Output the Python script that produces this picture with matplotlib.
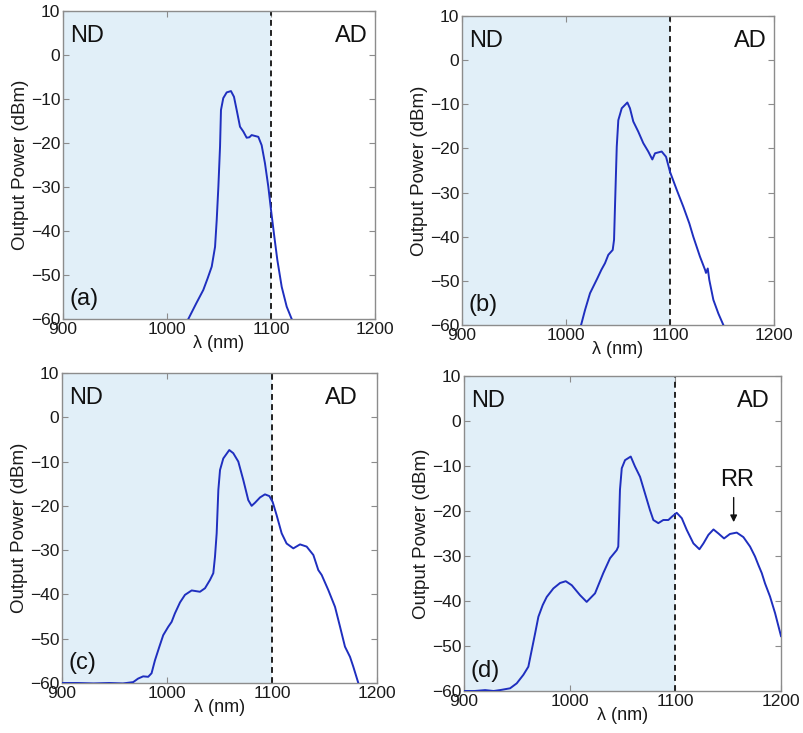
import matplotlib
matplotlib.use("Agg")
import matplotlib.pyplot as plt

plt.rcParams['font.family'] = ['Liberation Sans', 'DejaVu Sans']

# ---------------- data ----------------
wl_a = [1020.5, 1028, 1034.9, 1039, 1043, 1046.2, 1047.8, 1049.4, 1051, 1051.9, 1054.1,
        1057.4, 1061.5, 1064.4, 1067, 1070.2, 1073.4, 1076.6, 1079.2, 1081.4, 1084.6,
        1087.8, 1091, 1094.2, 1097.4, 1100, 1103.2, 1106.1, 1110.3, 1115.1, 1119.9]
pw_a = [-60, -56.5, -53.4, -50.8, -48.1, -43.6, -37.5, -29.9, -20.8, -12.5, -9.8,
        -8.5, -8.2, -9.5, -12.5, -16.3, -17.4, -18.8, -18.7, -18.2, -18.4,
        -18.6, -20.5, -24.6, -29.9, -35.2, -41.3, -46.6, -52.7, -57.2, -60]

wl_b = [1014.5, 1018.3, 1023.1, 1030, 1034, 1037.5, 1040.7, 1044.9, 1046.2, 1047.1, 1048.8,
        1050.3, 1053.6, 1059, 1061.5, 1064.7, 1069.5, 1074.3, 1079.1, 1083, 1085.6,
        1092, 1096.2, 1100, 1106.5, 1112.8, 1118.6, 1122.4, 1128.8, 1133.7, 1134.6,
        1136.3, 1137.8, 1141.7, 1146.5, 1151.3]
pw_b = [-60, -56.6, -52.8, -49.5, -47.5, -46.0, -44.1, -43.0, -40.7, -33.2, -19.6,
        -13.6, -10.9, -9.6, -10.9, -13.9, -16.2, -18.8, -20.7, -22.5, -21.1,
        -20.7, -21.9, -25.3, -29.4, -33.2, -37.0, -40.0, -44.5, -47.5, -48.2,
        -47.2, -49.8, -54.3, -57.4, -60]

wl_c = [900, 915, 930, 945, 958, 967.8, 972.5, 977.3, 982.1, 985.3, 988.5, 992.6, 996.4,
        1001.2, 1004.4, 1007.5, 1012.4, 1017.1, 1023.5, 1031.4, 1036.2, 1041, 1044.1,
        1045.7, 1047.3, 1048.9, 1050.5, 1053.6, 1059.3, 1063.1, 1067.9, 1072.7, 1077.4,
        1080.6, 1083.8, 1088.6, 1093.3, 1097.5, 1100.6, 1104.4, 1109.2, 1113.9, 1120.3,
        1126.7, 1133, 1139.4, 1144.1, 1147.3, 1153.6, 1160, 1164.8, 1169.5, 1174.3,
        1177.4, 1182.2]
pw_c = [-60, -60, -60.1, -60, -60.1, -59.8, -59, -58.5, -58.6, -57.8, -54.9, -51.9, -49.2,
        -47.3, -46.2, -44.3, -41.8, -40.1, -39.1, -39.4, -38.6, -36.7, -35.2,
        -31.5, -26.2, -16.4, -11.9, -9.3, -7.4, -8.1, -10.0, -14.2, -18.7,
        -20.0, -19.3, -18.1, -17.4, -17.8, -19.1, -22.1, -26.2, -28.5, -29.6,
        -28.7, -29.2, -31.1, -34.5, -35.6, -39.0, -42.8, -47.3, -51.8, -54.1,
        -56.3, -60]

wl_d = [900, 910, 920, 928, 934.1, 943.6, 949.9, 956.2, 960.9, 964.1, 967.3, 970.4, 974.5,
        978.3, 984.6, 990.9, 996.3, 1002, 1009.8, 1016.1, 1024, 1031.8, 1038.2,
        1044.5, 1046, 1047.6, 1049.3, 1052.4, 1057.8, 1061.8, 1066.6, 1071.3, 1076,
        1079.2, 1083.9, 1088.6, 1093.4, 1096.6, 1101.3, 1106.1, 1110.8, 1117.1, 1122.8,
        1126.6, 1131.3, 1136.1, 1140.8, 1146.1, 1151.7, 1158.1, 1164.4, 1170.7, 1175.4,
        1178.6, 1181.8, 1184.9, 1189.6, 1194.4, 1200]
pw_d = [-60, -60, -59.8, -60, -59.8, -59.4, -58.3, -56.4, -54.6, -50.9, -47.2, -43.5, -40.9,
        -39.1, -37.2, -36.0, -35.6, -36.5, -38.7, -40.2, -38.3, -33.8, -30.5,
        -28.7, -27.9, -15.3, -10.5, -8.7, -7.9, -10.1, -12.4, -16.1, -19.8,
        -22.0, -22.7, -22.0, -22.0, -21.3, -20.4, -21.6, -24.2, -27.2, -28.5,
        -27.2, -25.3, -24.1, -25.0, -26.1, -25.1, -24.8, -25.8, -27.9, -30.1,
        -32.0, -33.8, -36.1, -39.0, -42.7, -47.8]

panel_labels = ['(a)', '(b)', '(c)', '(d)']
x_ticks = [900, 1000, 1100, 1200]
y_ticks = [-60, -50, -40, -30, -20, -10, 0, 10]
boundary_nm = 1100
rr_label = 'RR'
rr_arrow = (1155.2, -16.4, -23.1)

series = [(wl_a, pw_a), (wl_b, pw_b), (wl_c, pw_c), (wl_d, pw_d)]

# ---------------- layout ----------------
W, H = 804, 733
boxes = [(63, 11, 375, 319), (462, 16, 774, 325), (62, 373, 377, 683), (464, 376, 781, 691)]
ad_x = [0.977, 0.977, 0.94, 0.965]

fig = plt.figure(figsize=(W / 100, H / 100), dpi=100)
line_color = '#1f2fbf'
fill_color = '#e1eff8'
spine_color = '#8c8c8c'

for i, ((x, y), (l, t, r, b)) in enumerate(zip(series, boxes)):
    ax = fig.add_axes([l / W, 1 - b / H, (r - l) / W, (b - t) / H])
    ax.axvspan(900, boundary_nm, color=fill_color, lw=0, zorder=0)
    ax.axvline(boundary_nm, color='#222222', ls=(0, (3.0, 2.2)), lw=1.4, zorder=2)
    ax.plot(x, y, color=line_color, lw=1.4, zorder=3, clip_on=True)
    ax.set_xlim(900, 1200)
    ax.set_ylim(-60, 10)
    ax.set_xticks(x_ticks)
    ax.set_yticks(y_ticks)
    ax.tick_params(direction='in', length=4, width=0.8, color=spine_color,
                   top=True, right=True, labelsize=12.5, labelcolor='#1a1a1a', pad=2)
    for s in ax.spines.values():
        s.set_color(spine_color)
        s.set_linewidth(1.0)
    ax.set_xlabel('λ (nm)', fontsize=13, labelpad=-1, color='#1a1a1a')
    ax.set_ylabel('Output Power (dBm)', fontsize=13.5, labelpad=1, color='#1a1a1a')
    ax.text(0.022, 0.955, 'ND', transform=ax.transAxes, fontsize=17, va='top', ha='left',
            color='#111111')
    ax.text(ad_x[i], 0.955, 'AD', transform=ax.transAxes, fontsize=17,
            va='top', ha='right', color='#111111')
    ax.text(0.022, 0.03, panel_labels[i], transform=ax.transAxes, fontsize=17, va='bottom',
            ha='left', color='#111111')
    if i == 3:
        xa, y0, y1 = rr_arrow
        ax.annotate('', xy=(xa, y1), xytext=(xa, y0),
                    arrowprops=dict(arrowstyle='-|>', color='#111111', lw=1.0,
                                    mutation_scale=10))
        ax.text(xa + 3, y0 + 0.8, rr_label, fontsize=17, ha='center', va='bottom',
                color='#111111')

fig.savefig('out.png', dpi=100)
